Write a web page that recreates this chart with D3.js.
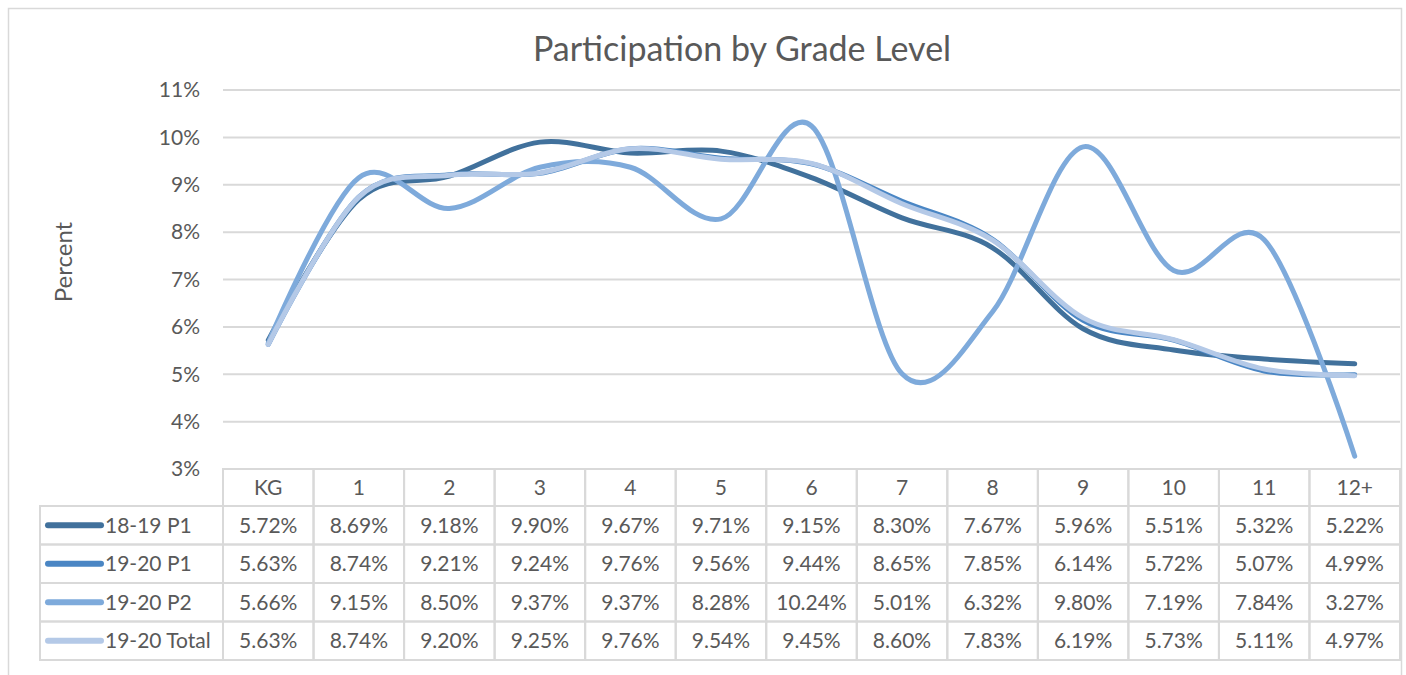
<!DOCTYPE html>
<html>
<head>
<meta charset="utf-8">
<script src="https://cdn.jsdelivr.net/npm/d3@7"></script>
<style>
  html, body { margin: 0; padding: 0; background: #fff; }
  svg text { font-family: Lato, "Open Sans", sans-serif; fill: #595959; }
</style>
</head>
<body>
<div id="chart"></div>
<script>
const grades = ['KG', '1', '2', '3', '4', '5', '6', '7', '8', '9', '10', '11', '12+']
const seriesNames = ['18-19 P1', '19-20 P1', '19-20 P2', '19-20 Total']
const p1_1819 = [5.72, 8.69, 9.18, 9.90, 9.67, 9.71, 9.15, 8.30, 7.67, 5.96, 5.51, 5.32, 5.22]
const p1_1920 = [5.63, 8.74, 9.21, 9.24, 9.76, 9.56, 9.44, 8.65, 7.85, 6.14, 5.72, 5.07, 4.99]
const p2_1920 = [5.66, 9.15, 8.50, 9.37, 9.37, 8.28, 10.24, 5.01, 6.32, 9.80, 7.19, 7.84, 3.27]
const total_1920 = [5.63, 8.74, 9.20, 9.25, 9.76, 9.54, 9.45, 8.60, 7.83, 6.19, 5.73, 5.11, 4.97]
const yTicks = [3, 4, 5, 6, 7, 8, 9, 10, 11]
const colors = ['#41719c', '#4a86c4', '#7eaadb', '#b4c9e7']

const series = seriesNames.map((name, i) => ({
	name,
	values: [p1_1819, p1_1920, p2_1920, total_1920][i],
	color: colors[i]
}))

const W = 1406, H = 675
const svg = d3.select('#chart').append('svg').attr('width', W).attr('height', H)

// chart frame
svg.append('rect')
	.attr('x', 8.5).attr('y', 8.5).attr('width', 1393).attr('height', 690)
	.attr('fill', 'none').attr('stroke', '#d9d9d9').attr('stroke-width', 1.5)

svg.append('text')
	.attr('x', 742).attr('y', 61)
	.attr('text-anchor', 'middle')
	.style('font-size', '34px')
	.text('Participation by Grade Level')

const x = d3.scaleBand().domain(grades).range([223, 1400])
const y = d3.scaleLinear().domain([3, 11]).range([469, 90])
const cx = g => x(g) + x.bandwidth() / 2

// gridlines
svg.append('g').selectAll('line')
	.data(yTicks.slice(1))
	.join('line')
	.attr('x1', 223).attr('x2', 1400)
	.attr('y1', d => y(d)).attr('y2', d => y(d))
	.attr('stroke', '#d9d9d9').attr('stroke-width', 2)

svg.append('g').selectAll('text')
	.data(yTicks)
	.join('text')
	.attr('x', 200).attr('y', d => y(d))
	.attr('dy', '0.35em')
	.attr('text-anchor', 'end')
	.style('font-size', '21px')
	.text(d => d + '%')

svg.append('text')
	.attr('transform', 'translate(72,262) rotate(-90)')
	.attr('text-anchor', 'middle')
	.style('font-size', '24px')
	.text('Percent')

// lines
const line = d3.line()
	.x((d, i) => cx(grades[i]))
	.y(d => y(d))
	.curve(d3.curveCatmullRom.alpha(0))

svg.append('g').selectAll('path')
	.data(series)
	.join('path')
	.attr('d', d => line(d.values))
	.attr('fill', 'none')
	.attr('stroke', d => d.color)
	.attr('stroke-width', 5)
	.attr('stroke-linecap', 'round')
	.attr('stroke-linejoin', 'round')

// data table
const headTop = 469, headH = 37, rowH = 38.5
const rowY = i => headTop + headH + i * rowH
const tbl = svg.append('g')
const grid = '#d9d9d9'

tbl.selectAll('rect.head')
	.data(grades)
	.join('rect')
	.attr('class', 'head')
	.attr('x', d => x(d)).attr('y', headTop)
	.attr('width', x.bandwidth()).attr('height', headH)
	.attr('fill', 'none').attr('stroke', grid).attr('stroke-width', 2)

tbl.selectAll('text.head')
	.data(grades)
	.join('text')
	.attr('class', 'head')
	.attr('x', d => cx(d)).attr('y', headTop + headH / 2)
	.attr('dy', '0.35em')
	.attr('text-anchor', 'middle')
	.style('font-size', '21px')
	.text(d => d)

const rows = tbl.selectAll('g.row')
	.data(series)
	.join('g')
	.attr('class', 'row')
	.attr('transform', (d, i) => `translate(0,${rowY(i)})`)

rows.append('rect')
	.attr('x', 40).attr('y', 0)
	.attr('width', 223 - 40).attr('height', rowH)
	.attr('fill', 'none').attr('stroke', grid).attr('stroke-width', 2)

rows.append('line')
	.attr('x1', 48).attr('x2', 101)
	.attr('y1', rowH / 2).attr('y2', rowH / 2)
	.attr('stroke', d => d.color).attr('stroke-width', 6)
	.attr('stroke-linecap', 'round')

rows.append('text')
	.attr('x', 105).attr('y', rowH / 2)
	.attr('dy', '0.35em')
	.style('font-size', '21px')
	.text(d => d.name)

rows.selectAll('rect.cell')
	.data(d => d.values)
	.join('rect')
	.attr('class', 'cell')
	.attr('x', (d, i) => x(grades[i])).attr('y', 0)
	.attr('width', x.bandwidth()).attr('height', rowH)
	.attr('fill', 'none').attr('stroke', grid).attr('stroke-width', 2)

rows.selectAll('text.cell')
	.data(d => d.values)
	.join('text')
	.attr('class', 'cell')
	.attr('x', (d, i) => cx(grades[i])).attr('y', rowH / 2)
	.attr('dy', '0.35em')
	.attr('text-anchor', 'middle')
	.style('font-size', '21px')
	.text(d => d.toFixed(2) + '%')
</script>
</body>
</html>
